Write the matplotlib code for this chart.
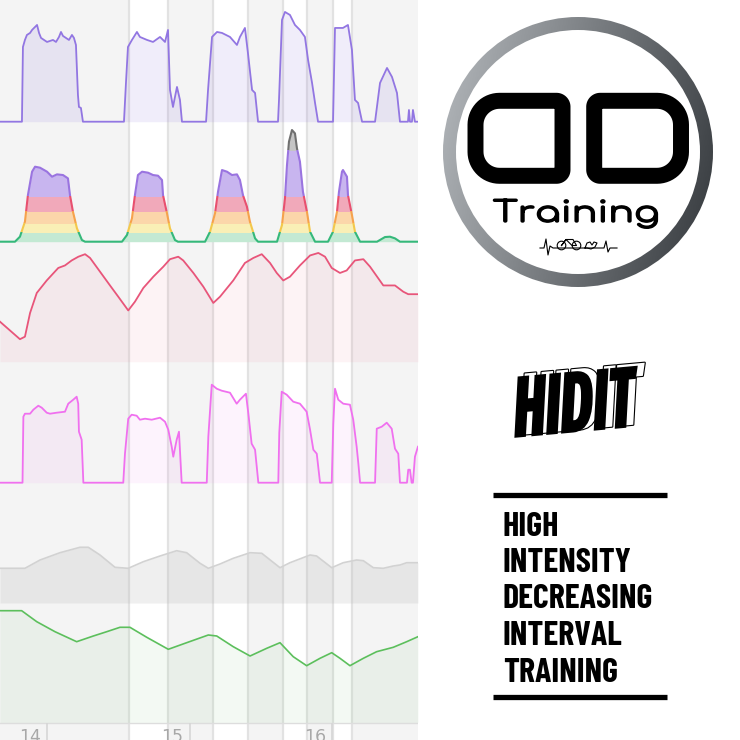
import numpy as np
import matplotlib
matplotlib.use('Agg')
import matplotlib.pyplot as plt
from matplotlib import font_manager as fm
from matplotlib.path import Path
from matplotlib.patches import PathPatch, Wedge, Circle, Rectangle
from matplotlib.colors import LinearSegmentedColormap
import matplotlib.patheffects as pe
import matplotlib.transforms as mtransforms

# ---------------- data ----------------
km_ticks = [14, 15, 16]
km_tick_labels = ['14', '15', '16']
interval_start = [14.575, 15.165, 15.656, 16.007]
interval_end = [14.849, 15.410, 15.825, 16.140]

power_km = [13.670, 13.824, 13.831, 13.845, 13.859, 13.881, 13.895, 13.916, 13.930, 13.944, 13.958, 13.979, 14.000, 14.021, 14.042, 14.063, 14.084, 14.098, 14.112, 14.133, 14.154, 14.175, 14.189, 14.203, 14.210, 14.217, 14.224, 14.238, 14.252,
            14.540, 14.554, 14.568, 14.596, 14.631, 14.652, 14.702, 14.744, 14.793, 14.828, 14.849, 14.863, 14.884, 14.912, 14.933, 14.947,
            15.116, 15.130, 15.158, 15.193, 15.228, 15.284, 15.333, 15.354, 15.389, 15.410, 15.439, 15.460, 15.481,
            15.621, 15.628, 15.649, 15.670, 15.705, 15.740, 15.775, 15.810, 15.832, 15.860, 15.881, 15.902,
            16.007, 16.021, 16.077, 16.112, 16.140, 16.161, 16.183, 16.211,
            16.302, 16.337, 16.386, 16.421, 16.456, 16.477, 16.533, 16.540, 16.547, 16.561, 16.568, 16.582, 16.603]
power_w = [0, 0, 299, 327, 347, 355, 367, 379, 387, 355, 335, 327, 319, 323, 327, 319, 339, 359, 343, 335, 327, 347, 335, 307, 207, 107, 59, 55, 0,
           0, 155, 299, 327, 359, 339, 327, 319, 339, 319, 367, 127, 59, 139, 87, 0,
           0, 127, 339, 359, 355, 339, 307, 339, 375, 275, 127, 115, 0,
           0, 87, 407, 439, 427, 387, 367, 339, 247, 155, 75, 0,
           0, 375, 375, 387, 287, 87, 75, 0,
           0, 155, 215, 179, 115, 0, 0, 47, 0, 0, 47, 0, 0]

zone_km = [13.670, 13.775, 13.810, 13.845, 13.866, 13.895, 13.916, 13.951, 14.000, 14.035, 14.070, 14.112, 14.147, 14.161, 14.182, 14.210, 14.245, 14.267,
           14.526, 14.561, 14.596, 14.617, 14.638, 14.667, 14.709, 14.744, 14.779, 14.807, 14.814, 14.842, 14.863, 14.898, 14.919,
           15.109, 15.144, 15.179, 15.200, 15.228, 15.263, 15.298, 15.333, 15.354, 15.375, 15.403, 15.424, 15.460, 15.481,
           15.614, 15.649, 15.670, 15.684, 15.698, 15.719, 15.740, 15.754, 15.775, 15.796, 15.824, 15.846, 15.881,
           15.972, 16.007, 16.035, 16.049, 16.070, 16.077, 16.105, 16.112, 16.140, 16.161, 16.197,
           16.316, 16.372, 16.407, 16.442, 16.477, 16.603]
zone_w = [0, 0, 15, 60, 140, 210, 225, 222, 210, 195, 202, 200, 190, 140, 90, 40, 5, 0,
          0, 20, 70, 140, 200, 210, 207, 200, 198, 185, 140, 85, 40, 5, 0,
          0, 30, 85, 150, 215, 210, 200, 202, 185, 140, 105, 60, 10, 0,
          0, 50, 130, 230, 300, 335, 325, 280, 240, 150, 90, 30, 0,
          0, 30, 90, 150, 210, 215, 195, 140, 80, 30, 0,
          0, 14, 15, 10, 0, 0]
zone_edges = [-20, 30, 55, 92, 138, 275, 1000]

hr_km = [13.670, 13.810, 13.845, 13.881, 13.928, 13.998, 14.079, 14.126, 14.173, 14.220, 14.267, 14.302, 14.372, 14.442, 14.500, 14.570, 14.617, 14.676, 14.746, 14.816,
         14.863, 14.921, 14.956, 15.027, 15.097, 15.167, 15.214, 15.307, 15.389, 15.448, 15.507, 15.565, 15.612, 15.658, 15.705, 15.775, 15.846, 15.904, 15.951, 15.998,
         16.056, 16.103, 16.161, 16.220, 16.267, 16.360, 16.442, 16.500, 16.535, 16.603]
hr_bpm = [132, 118, 120, 139, 155, 165, 175, 177, 181, 184, 186, 183, 172, 161, 152, 141, 148, 159, 168, 176,
          182, 184, 181, 171, 160, 147, 152, 165, 179, 183, 186, 179, 171, 165, 168, 177, 185, 187, 184, 175,
          171, 173, 181, 182, 176, 161, 161, 156, 154, 154]

cad_km = [13.670, 13.828, 13.834, 13.845, 13.881, 13.904, 13.939, 13.963, 13.998, 14.021, 14.068, 14.126, 14.149, 14.184, 14.208, 14.219, 14.224, 14.243, 14.255,
          14.535, 14.547, 14.570, 14.594, 14.629, 14.652, 14.688, 14.735, 14.793, 14.828, 14.851, 14.875, 14.886, 14.910, 14.926, 14.945,
          15.121, 15.132, 15.156, 15.191, 15.226, 15.284, 15.331, 15.354, 15.396, 15.413, 15.436, 15.460, 15.483,
          15.623, 15.630, 15.647, 15.682, 15.728, 15.775, 15.822, 15.846, 15.869, 15.893, 15.916,
          15.998, 16.009, 16.021, 16.044, 16.079, 16.126, 16.149, 16.173, 16.185, 16.197,
          16.302, 16.314, 16.349, 16.384, 16.419, 16.442, 16.465, 16.477, 16.526, 16.535, 16.547, 16.559, 16.568, 16.582, 16.603]
cad_rpm = [0, 0, 66, 69, 69, 73, 77, 75, 70, 69, 70, 71, 79, 83, 86, 79, 51, 43, 0,
           0, 29, 64, 68, 67, 63, 64, 63, 65, 61, 53, 36, 26, 43, 51, 0,
           0, 46, 98, 94, 92, 90, 79, 83, 89, 69, 39, 33, 0,
           0, 50, 91, 88, 81, 79, 71, 53, 33, 29, 0,
           0, 59, 94, 83, 79, 78, 63, 36, 19, 0,
           0, 54, 56, 60, 54, 34, 29, 0, 0, 13, 13, 0, 0, 26, 36]

elev_km = [13.670, 13.845, 13.951, 14.091, 14.231, 14.290, 14.372, 14.477, 14.570, 14.676, 14.793, 14.910, 14.980, 15.074, 15.132, 15.214, 15.307,
           15.425, 15.507, 15.635, 15.705, 15.846, 15.892, 15.998, 16.079, 16.173, 16.220, 16.290, 16.360, 16.430, 16.477, 16.524, 16.603]
elev_m = [34.7, 34.7, 43.0, 50.3, 55.7, 55.7, 48.0, 35.7, 34.7, 41.3, 47.0, 52.3, 50.3, 39.7, 34.7, 39.0, 44.7,
          50.3, 49.7, 35.3, 40.3, 48.0, 47.0, 35.3, 40.3, 43.0, 42.3, 35.3, 34.7, 37.0, 38.0, 40.3, 40.3]

wbal_km = [13.670, 13.822, 13.928, 14.056, 14.208, 14.325, 14.419, 14.512, 14.582, 14.700, 14.851, 14.980, 15.132, 15.191, 15.307,
           15.425, 15.542, 15.635, 15.728, 15.822, 15.916, 15.998, 16.056, 16.126, 16.220, 16.313, 16.430, 16.524, 16.603]
wbal = [111.6, 111.6, 100.6, 90.6, 80.6, 86.3, 90.6, 95.0, 95.0, 85.0, 73.0, 79.6, 87.3, 86.3, 75.6,
        66.3, 74.0, 79.6, 65.6, 56.6, 64.0, 69.6, 64.0, 56.6, 64.0, 70.6, 75.0, 80.6, 85.6]

logo_word = 'Training'
title_word = 'HIDIT'
subtitle_lines = ['HIGH', 'INTENSITY', 'DECREASING', 'INTERVAL', 'TRAINING']

# ---------------- fonts ----------------
ttf = fm.fontManager.ttflist
names = {f.name for f in ttf}
def pick(cands, default='DejaVu Sans'):
    for c in cands:
        if c in names:
            return c
    return default

f_sub = pick(['Barlow Condensed', 'Roboto Condensed'])
f_hid = pick(['Fira Sans Extra Condensed', 'Barlow Condensed', 'Roboto Condensed'])
f_logo = pick(['Comfortaa', 'Quicksand', 'DejaVu Sans'])


class Squeeze(pe.AbstractPathEffect):
    """Scale the rendered glyph outlines horizontally about their centre
    (optionally stroking them) - the artist stays a real Text."""
    def __init__(self, sx=1.0, stroke=0.0, stroke_color='black'):
        super().__init__()
        self.sx = sx
        self.stroke = stroke
        self.stroke_color = stroke_color

    def draw_path(self, renderer, gc, tpath, affine, rgbFace=None):
        ext = tpath.transformed(affine).get_extents()
        cx, cy = (ext.x0 + ext.x1) / 2, (ext.y0 + ext.y1) / 2
        a = affine + mtransforms.Affine2D().translate(-cx, -cy).scale(self.sx, 1.0).translate(cx, cy)
        if self.stroke > 0:
            gc0 = renderer.new_gc()
            gc0.copy_properties(gc)
            gc0.set_linewidth(self.stroke)
            gc0.set_foreground(self.stroke_color)
            gc0.set_joinstyle('round')
            renderer.draw_path(gc0, tpath, a, rgbFace)
            gc0.restore()
        renderer.draw_path(gc, tpath, a, rgbFace)


# ---------------- figure ----------------
W = H = 740
fig = plt.figure(figsize=(7.4, 7.4), dpi=100, facecolor='white')

def box(x0, y0, x1, y1):
    return [x0 / W, 1 - y1 / H, (x1 - x0) / W, (y1 - y0) / H]

XMIN, XMAX = 13.670, 16.6035
LEFT_W = 418

# background with interval shading
bg = fig.add_axes(box(0, 0, LEFT_W, H))
bg.set_xlim(XMIN, XMAX)
bg.set_ylim(H, 0)
bg.set_facecolor('#f4f4f4')
for sp in bg.spines.values():
    sp.set_visible(False)
bg.set_xticks([]); bg.set_yticks([])
for s, e in zip(interval_start, interval_end):
    bg.axvspan(s, e, color='white', lw=0, zorder=0)
    bg.axvline(s, color='#e2e2e2', lw=1.6, zorder=1)
    bg.axvline(e, color='#e2e2e2', lw=1.6, zorder=1)
bg.axhline(722.5, color='#dddddd', lw=1, zorder=2)
bg.vlines(km_ticks, 722.5, H, color='#d6d6d6', lw=1.2, zorder=2)
off = mtransforms.ScaledTranslation(-6 / 100, 0, fig.dpi_scale_trans)
for k, lab in zip(km_ticks, km_tick_labels):
    bg.text(k, 728, lab, transform=bg.transData + off, ha='right', va='top',
            fontsize=12.5, color='#a8a8a8')

def panel(y0, y1, ylim):
    ax = fig.add_axes(box(0, y0, LEFT_W, y1))
    ax.set_xlim(XMIN, XMAX)
    ax.set_ylim(*ylim)
    ax.patch.set_visible(False)
    ax.set_axis_off()
    return ax

# power
ax1 = panel(0, 123, (-5.2, 486.8))
ax1.fill_between(power_km, power_w, 0, color='#8f74e0', alpha=0.13, lw=0)
ax1.plot(power_km, power_w, color='#9276e2', lw=1.3)

# power zones
ax2 = panel(123, 243, (-3.9, 356.1))
zone_fill = ['#c3e9d3', '#f9efb6', '#fbd6aa', '#f1a9ba', '#c8b5ef', '#c4c4c4']
zone_line = ['#35b87a', '#f3c84c', '#f6a24c', '#e8506f', '#9a74e0', '#707070']
for i in range(6):
    lo, hi = zone_edges[i], zone_edges[i + 1]
    rect = Rectangle((XMIN, lo), XMAX - XMIN, hi - lo, transform=ax2.transData)
    f = ax2.fill_between(zone_km, zone_w, 0, color=zone_fill[i], lw=0)
    f.set_clip_path(rect)
    rect2 = Rectangle((XMIN, lo), XMAX - XMIN, hi - lo, transform=ax2.transData)
    ln, = ax2.plot(zone_km, zone_w, color=zone_line[i], lw=1.5)
    ln.set_clip_path(rect2)

# heart rate
ax3 = panel(243, 364, (98.16, 194.96))
ax3.fill_between(hr_km, hr_bpm, 100, color='#e8557a', alpha=0.07, lw=0)
ax3.plot(hr_km, hr_bpm, color='#e8557a', lw=1.3)

# cadence
ax4 = panel(364, 486, (-3.3, 118.7))
ax4.fill_between(cad_km, cad_rpm, 0, color='#f070ef', alpha=0.08, lw=0)
ax4.plot(cad_km, cad_rpm, color='#f070ef', lw=1.3)

# elevation
ax5 = panel(486, 603, (0, 117))
ax5.fill_between(elev_km, elev_m, 0, color='#b0b0b0', alpha=0.2, lw=0)
ax5.plot(elev_km, elev_m, color='#d2d2d2', lw=1.2)

# w'bal
ax6 = panel(603, 722, (0.3, 119.3))
ax6.fill_between(wbal_km, wbal, 0, color='#5cb85c', alpha=0.07, lw=0)
ax6.plot(wbal_km, wbal, color='#5cbf5c', lw=1.2)

# ---------------- right side decoration ----------------
deco = fig.add_axes([0, 0, 1, 1])
deco.patch.set_visible(False)
deco.set_axis_off()

# ring with gradient
X, Y = np.meshgrid(np.linspace(0, 1, 200), np.linspace(0, 1, 200))
G = 0.8 * X + 0.2 * Y
cmap = LinearSegmentedColormap.from_list('ring', ['#b6babe', '#33373b'])
im = deco.imshow(G, extent=[443, 713, 287, 17], cmap=cmap, origin='upper',
                 interpolation='bilinear', aspect='auto', zorder=2)
ring = Wedge((578, 152), 135, 0, 360, width=13, transform=deco.transData)
im.set_clip_path(ring)

def rrect(x0, y0, x1, y1, r_tl, r_tr, r_br, r_bl, n=16):
    pts = []
    def arc(cx, cy, r, a0, a1):
        for t in np.linspace(np.radians(a0), np.radians(a1), n):
            pts.append((cx + r * np.cos(t), cy + r * np.sin(t)))
    arc(x0 + r_tl, y0 + r_tl, r_tl, 180, 270)
    arc(x1 - r_tr, y0 + r_tr, r_tr, 270, 360)
    arc(x1 - r_br, y1 - r_br, r_br, 0, 90)
    arc(x0 + r_bl, y1 - r_bl, r_bl, 90, 180)
    pts.append(pts[0])
    codes = [Path.MOVETO] + [Path.LINETO] * (len(pts) - 2) + [Path.CLOSEPOLY]
    return Path(pts, codes)

d1 = rrect(475.5, 100.8, 562.5, 175.8, 24, 6, 6, 24)
d2 = rrect(594.2, 100.8, 681.0, 175.8, 6, 24, 24, 6)
for p in (d1, d2):
    deco.add_patch(PathPatch(p, facecolor='none', edgecolor='black', lw=11.5,
                             joinstyle='round', zorder=3))

deco.text(576, 222, logo_word, ha='center', va='baseline', fontsize=21,
          color='black', family=f_logo, zorder=3,
          path_effects=[Squeeze(sx=1.3, stroke=1.0)])

# ecg / bike / heart line
deco.plot([540, 544, 546, 548, 550, 553, 600, 604, 606, 608, 610, 617],
          [248, 248, 239, 255, 246, 248, 248, 248, 241, 252, 248, 248],
          color='black', lw=0.8, zorder=3)
for cx in (561.5, 576.5):
    deco.add_patch(Circle((cx, 245.5), 4.3, fill=False, ec='black', lw=0.8, zorder=3))
deco.plot([561.5, 566, 573, 576.5, 572, 566, 561.5], [245.5, 239.5, 239.5, 245.5, 245.5, 239.5, 245.5],
          color='black', lw=0.8, zorder=3)
deco.plot([585, 587, 590, 592, 594, 597, 595, 591, 587, 585],
          [248, 243, 242, 245, 242, 243, 247, 249, 248, 248], color='black', lw=0.8, zorder=3)

# HIDIT
hid_kw = dict(ha='center', va='center', rotation=3.5, rotation_mode='anchor',
              fontsize=63, fontweight=900, fontstyle='italic', family=f_hid, zorder=3)
deco.text(581, 406, title_word, color='white',
          path_effects=[Squeeze(sx=0.68, stroke=1.6)], **hid_kw)
deco.text(574, 409, title_word, color='black',
          path_effects=[Squeeze(sx=0.68)], **hid_kw)

# framed subtitle
deco.plot([493, 667], [495, 495], color='black', lw=3.8, solid_capstyle='butt', zorder=3)
deco.plot([493, 667], [697, 697], color='black', lw=3.8, solid_capstyle='butt', zorder=3)
baselines = [536, 572, 608, 645, 682]
for t, yb in zip(subtitle_lines, baselines):
    deco.text(503, yb, t, ha='left', va='baseline', fontsize=24.5, fontweight=700,
              family=f_sub, color='black', zorder=3)

deco.set_xlim(0, W)
deco.set_ylim(H, 0)

fig.savefig('out.png', dpi=100, facecolor='white')
